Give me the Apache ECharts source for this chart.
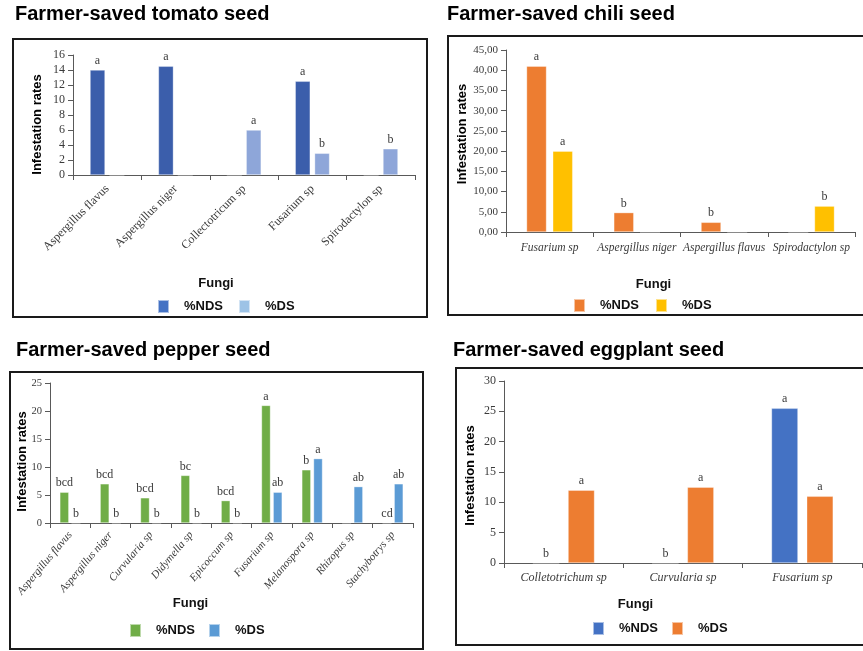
<!DOCTYPE html>
<html>
<head>
<meta charset="utf-8">
<script src="https://cdn.jsdelivr.net/npm/echarts@6/dist/echarts.min.js"></script>
<style>
html,body{margin:0;padding:0;background:#fff;}
#chart{width:863px;height:651px;}
</style>
</head>
<body>
<div id="chart"></div>
<script>
// ---------- DATA ----------
const tomatoCategories = ['Aspergillus flavus','Aspergillus niger','Collectotricum sp','Fusarium sp','Spirodactylon sp'];
const tomatoNDS = [14, 14.5, 0, 12.5, 0];
const tomatoDS = [0, 0, 6, 2.9, 3.5];
const tomatoNDSLetters = ['a','a','','a',''];
const tomatoDSLetters = ['','','a','b','b'];
const tomatoTicks = {max: 16, interval: 2};

const chiliCategories = ['Fusarium sp','Aspergillus niger','Aspergillus flavus','Spirodactylon sp'];
const chiliNDS = [41, 4.8, 2.4, 0];
const chiliDS = [20, 0, 0, 6.4];
const chiliNDSLetters = ['a','b','b',''];
const chiliDSLetters = ['a','','','b'];
const chiliTicks = {max: 45, interval: 5};

const pepperCategories = ['Aspergillus flavus','Aspergillus niger','Curvularia sp','Didymella sp','Epicoccum sp','Fusarium sp','Melanospora sp','Rhizopus sp','Stachybotrys sp'];
const pepperNDS = [5.5, 7, 4.5, 8.5, 4, 21, 9.5, 0, 0];
const pepperDS = [0, 0, 0, 0, 0, 5.5, 11.5, 6.5, 7];
const pepperNDSLetters = ['bcd','bcd','bcd','bc','bcd','a','b','','cd'];
const pepperDSLetters = ['b','b','b','b','b','ab','a','ab','ab'];
const pepperTicks = {max: 25, interval: 5};

const eggplantCategories = ['Colletotrichum sp','Curvularia sp','Fusarium sp'];
const eggplantNDS = [0, 0, 25.5];
const eggplantDS = [12, 12.5, 11];
const eggplantNDSLetters = ['b','b','a'];
const eggplantDSLetters = ['a','a','a'];
const eggplantTicks = {max: 30, interval: 5};

const panelTitles = ['Farmer-saved tomato seed','Farmer-saved chili seed','Farmer-saved pepper seed','Farmer-saved eggplant seed'];
const yTitle = 'Infestation rates';
const xTitle = 'Fungi';
const seriesNames = ['%NDS','%DS'];

// ---------- STYLE / LAYOUT ----------
const SERIF = '"Liberation Serif","DejaVu Serif",serif';
const SANS = '"Liberation Sans",Arial,sans-serif';
const axisColor = '#595959';
const textColor = '#3a3a3a';

const panels = [
  {key:'tomato', cats:tomatoCategories, nds:tomatoNDS, ds:tomatoDS, ndsL:tomatoNDSLetters, dsL:tomatoDSLetters, ticks:tomatoTicks,
   grid:{left:73, top:55, width:342, height:120}, colors:['#3b5eab','#8ea6d9'], legendColors:['#4472c4','#9dc3e6'],
   barWidth:15, barGap:'29%', rotate:45, italic:false, xFont:12, xMargin:12, yFont:12, fmt:null,
   box:[13,39,414,278], title:[15,14], yT:[37.5,124.5], xT:[216,283], legend:[157,299,15]},
  {key:'chili', cats:chiliCategories, nds:chiliNDS, ds:chiliDS, ndsL:chiliNDSLetters, dsL:chiliDSLetters, ticks:chiliTicks,
   grid:{left:506, top:50, width:349, height:182}, colors:['#ed7d31','#ffc000'], legendColors:['#ed7d31','#ffc000'],
   barWidth:20, barGap:'31%', rotate:0, italic:true, xFont:11.5, xMargin:10, yFont:11, fmt:v=>v.toFixed(2).replace('.',','),
   box:[448,36,420,279], title:[447,14], yT:[462,134], xT:[653.5,284], legend:[573,298,16]},
  {key:'pepper', cats:pepperCategories, nds:pepperNDS, ds:pepperDS, ndsL:pepperNDSLetters, dsL:pepperDSLetters, ticks:pepperTicks,
   grid:{left:50, top:383, width:363, height:140}, colors:['#70ad47','#5b9bd5'], legendColors:['#70ad47','#5b9bd5'],
   barWidth:9, barGap:'30%', rotate:50, italic:true, xFont:11, xMargin:10, yFont:10.5, fmt:null,
   box:[10,372,413,277], title:[16,350.5], yT:[22,461.5], xT:[190.5,603], legend:[129,623,13]},
  {key:'eggplant', cats:eggplantCategories, nds:eggplantNDS, ds:eggplantDS, ndsL:eggplantNDSLetters, dsL:eggplantDSLetters, ticks:eggplantTicks,
   grid:{left:504, top:381, width:358, height:182}, colors:['#4472c4','#ed7d31'], legendColors:['#4472c4','#ed7d31'],
   barWidth:26.5, barGap:'33%', rotate:0, italic:true, xFont:12, xMargin:9, yFont:12, fmt:null,
   box:[456,368,415,277], title:[453,350], yT:[470.7,475.5], xT:[635.5,604], legend:[592,621,13]}
];

const grids = [], xAxes = [], yAxes = [], series = [], legends = [], graphics = [];

panels.forEach((p, i) => {
  grids.push(Object.assign({}, p.grid));
  xAxes.push({
    type:'category', gridIndex:i, data:p.cats,
    axisLine:{lineStyle:{color:axisColor, width:1}},
    axisTick:{show:true, length:5, lineStyle:{color:axisColor}},
    axisLabel:{interval:0, rotate:p.rotate, margin:p.xMargin, fontFamily:SERIF, fontSize:p.xFont,
      fontStyle:p.italic?'italic':'normal', color:textColor}
  });
  yAxes.push({
    type:'value', gridIndex:i, min:0, max:p.ticks.max, interval:p.ticks.interval,
    splitLine:{show:false},
    axisLine:{show:true, lineStyle:{color:axisColor, width:1}},
    axisTick:{show:true, length:5, lineStyle:{color:axisColor}},
    axisLabel:{margin:8, fontFamily:SERIF, fontSize:p.yFont, color:textColor, formatter:p.fmt || (v=>String(v))}
  });
  const mk = (vals, letters, color, nameIdx) => ({
    type:'bar', name:p.key + '|' + seriesNames[nameIdx], xAxisIndex:i, yAxisIndex:i,
    data:vals, barWidth:p.barWidth, barGap:p.barGap,
    itemStyle:{color:color, borderColor:'rgba(255,255,255,0.55)', borderWidth:0.6},
    label:{show:true, position:'top', distance:3, fontFamily:SERIF, fontSize:12, color:textColor,
      formatter:(q)=>letters[q.dataIndex]},
    emphasis:{disabled:true}, animation:false
  });
  series.push(mk(p.nds, p.ndsL, p.colors[0], 0));
  series.push(mk(p.ds, p.dsL, p.colors[1], 1));
  legends.push({
    left:p.legend[0], top:p.legend[1], padding:0, itemGap:p.legend[2],
    itemWidth:11, itemHeight:13, icon:'rect', selectedMode:false,
    data:[{name:p.key+'|'+seriesNames[0], itemStyle:{color:p.legendColors[0]}},
          {name:p.key+'|'+seriesNames[1], itemStyle:{color:p.legendColors[1]}}],
    formatter:(n)=>n.split('|')[1],
    textStyle:{fontFamily:SANS, fontWeight:'bold', fontSize:13, color:'#111', padding:[0,0,0,10]}
  });
  graphics.push({type:'rect', silent:true, z:0,
    shape:{x:p.box[0], y:p.box[1], width:p.box[2], height:p.box[3]},
    style:{fill:'none', stroke:'#1a1a1a', lineWidth:2}});
  graphics.push({type:'text', silent:true, x:p.title[0], y:p.title[1],
    style:{text:panelTitles[i], font:'bold 20px ' + SANS, fill:'#000', align:'left', verticalAlign:'middle'}});
  graphics.push({type:'text', silent:true, x:p.yT[0], y:p.yT[1], rotation:Math.PI/2,
    style:{text:yTitle, font:'bold 13px ' + SANS, fill:'#000', align:'center', verticalAlign:'middle'}});
  graphics.push({type:'text', silent:true, x:p.xT[0], y:p.xT[1],
    style:{text:xTitle, font:'bold 13px ' + SANS, fill:'#111', align:'center', verticalAlign:'middle'}});
});

const chart = echarts.init(document.getElementById('chart'), null, {renderer:'canvas'});
chart.setOption({
  animation:false,
  backgroundColor:'#fff',
  grid:grids, xAxis:xAxes, yAxis:yAxes, series:series, legend:legends,
  graphic:{elements:graphics}
});
</script>
</body>
</html>
